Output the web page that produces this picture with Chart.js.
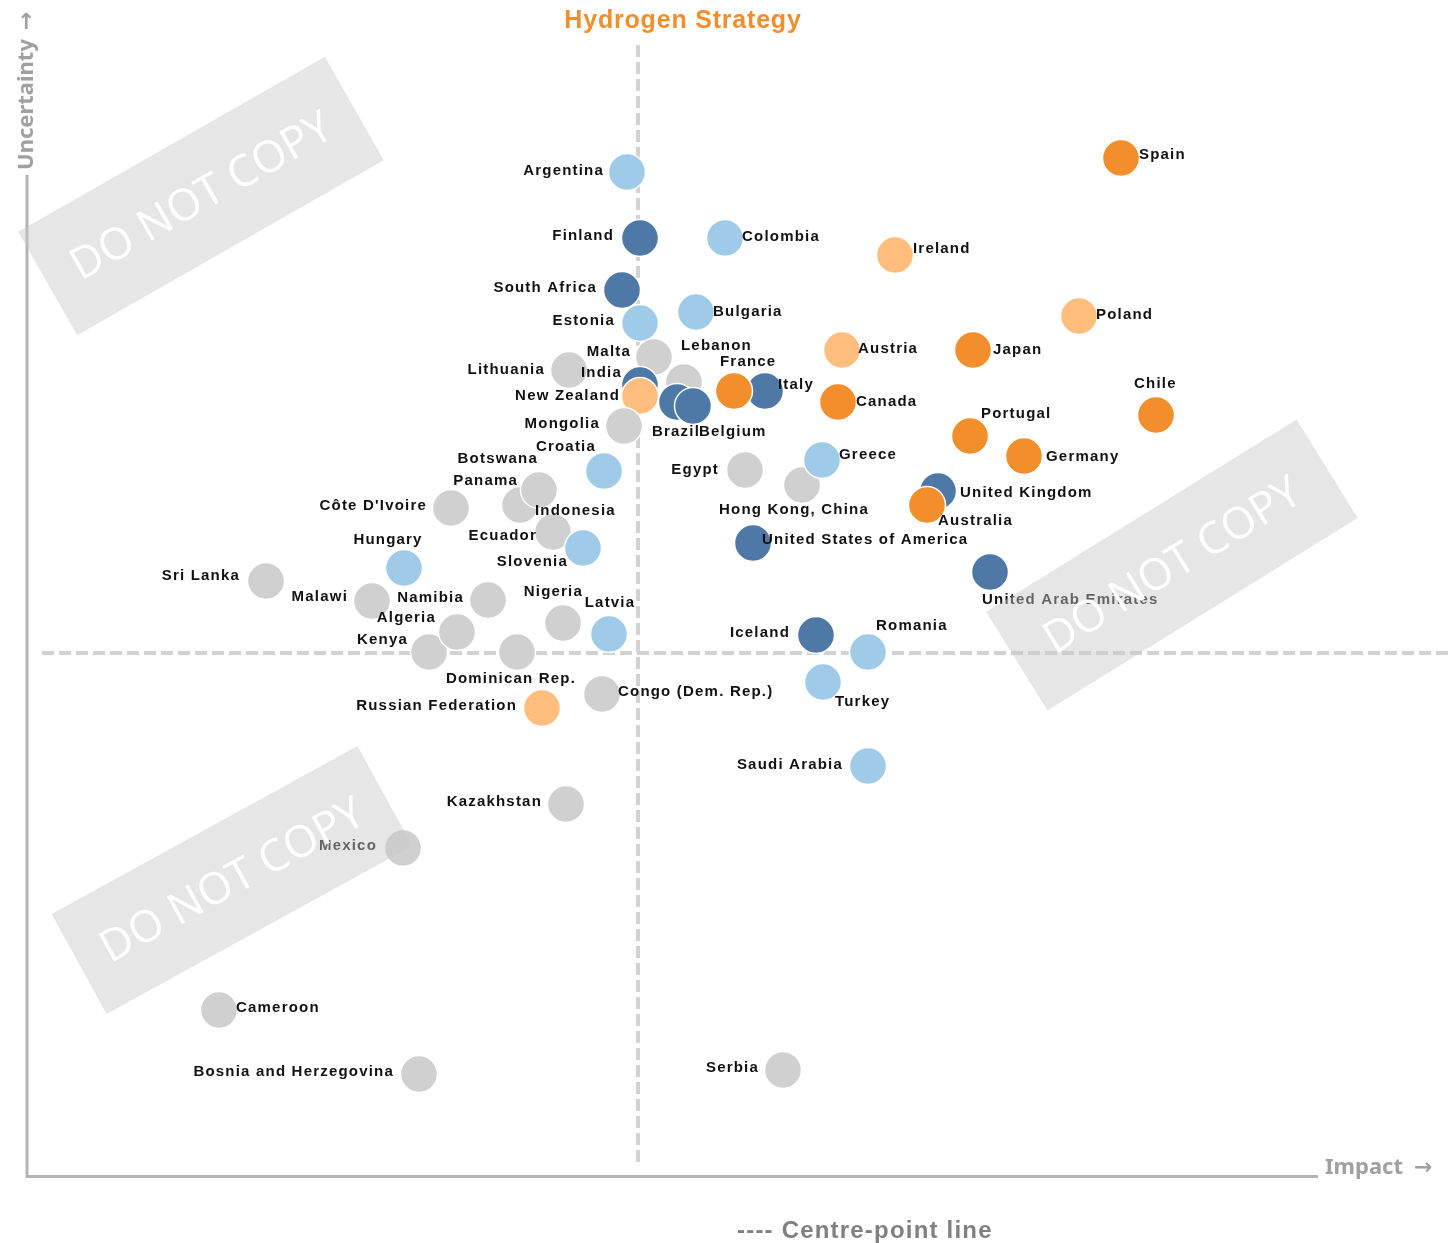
<!DOCTYPE html>
<html>
<head>
<meta charset="utf-8">
<title>Hydrogen Strategy</title>
<script src="https://cdn.jsdelivr.net/npm/chart.js@4.4.1/dist/chart.umd.min.js"></script>
<style>
  html, body { margin: 0; padding: 0; background: #ffffff; }
  #wrap { width: 1448px; height: 1243px; }
</style>
</head>
<body>
<div id="wrap"><canvas id="hydrogenScatter" width="1448" height="1243"></canvas></div>
<script>
// Country, impact score, uncertainty score and colour group (drawing order matters for overlaps)
const countries = [
  "Argentina", "Finland", "Colombia", "Ireland", "Spain", "South Africa", "Bulgaria", "Estonia",
  "Poland", "Malta", "Lebanon", "Lithuania", "India", "New Zealand", "Italy", "France",
  "Brazil", "Belgium", "Austria", "Japan", "Canada", "Chile", "Portugal", "Mongolia",
  "Croatia", "Egypt", "Hong Kong, China", "Greece", "Germany", "United Kingdom", "Australia",
  "United States of America", "United Arab Emirates", "Côte D'Ivoire", "Indonesia", "Botswana",
  "Panama", "Ecuador", "Slovenia", "Hungary", "Sri Lanka", "Malawi", "Namibia", "Nigeria",
  "Latvia", "Kenya", "Algeria", "Dominican Rep.", "Congo (Dem. Rep.)", "Russian Federation",
  "Iceland", "Romania", "Turkey", "Saudi Arabia", "Kazakhstan", "Mexico", "Cameroon",
  "Bosnia and Herzegovina", "Serbia"
];
const impact = [
  60.0, 61.3, 69.8, 86.8, 109.4, 59.5, 66.9, 61.3,
  105.2, 62.7, 65.7, 54.2, 61.3, 61.3, 73.8, 70.7,
  65.0, 66.6, 81.5, 94.6, 81.1, 112.9, 94.3, 59.7,
  57.7, 71.8, 77.5, 79.5, 99.7, 91.1, 90.0,
  72.6, 96.3, 42.4, 49.3, 51.3,
  51.2, 52.6, 55.6, 37.7, 23.9, 34.5, 46.1, 53.6,
  58.2, 40.2, 43.0, 49.0, 57.5, 51.5,
  78.9, 84.1, 79.6, 84.1, 53.9, 37.6, 19.2,
  39.2, 75.6
];
const uncertainty = [
  100.3, 93.7, 93.7, 92.0, 101.7, 88.5, 86.3, 85.2,
  85.9, 81.8, 79.3, 80.5, 79.0, 77.9, 78.4, 78.4,
  77.3, 76.9, 82.5, 82.5, 77.3, 76.0, 73.9, 74.9,
  70.4, 70.5, 69.0, 71.5, 71.9, 68.4, 67.0,
  63.2, 60.3, 66.7, 67.0, 68.6,
  68.5, 64.3, 62.7, 60.7, 59.4, 57.4, 57.5, 55.2,
  54.1, 52.3, 54.3, 52.3, 48.1, 46.7,
  54.0, 52.3, 49.3, 40.9, 37.1, 32.7, 16.5,
  10.1, 10.5
];
// 1 = dark blue, 2 = light blue, 3 = grey, 4 = light orange, 5 = orange
const group = [
  2, 1, 2, 4, 5, 1, 2, 2,
  4, 3, 3, 3, 1, 4, 1, 5,
  1, 1, 4, 5, 5, 5, 5, 3,
  2, 3, 3, 2, 5, 1, 5,
  1, 1, 3, 3, 3,
  3, 3, 2, 2, 3, 3, 3, 3,
  2, 3, 3, 3, 3, 4,
  1, 2, 2, 2, 3, 3, 3,
  3, 3
];
const centreImpact = 61.1;
const centreUncertainty = 52.2;

const groupColours = { 1: "#4E79A7", 2: "#A0CBE8", 3: "#D0D0D0", 4: "#FFBE7D", 5: "#F28E2B" };

// label placement: [dx, dy, align] relative to the point centre
const labelPlace = {
  "Argentina": [-23, -1, "right"], "Finland": [-26, -2, "right"], "Colombia": [17, -1, "left"],
  "Ireland": [18, -6, "left"], "Spain": [18, -3, "left"], "South Africa": [-25, -2, "right"],
  "Bulgaria": [17, 0, "left"], "Estonia": [-25, -2, "right"], "Poland": [17, -1, "left"],
  "Malta": [-23, -5, "right"], "Lebanon": [-3, -36, "left"], "Lithuania": [-24, 0, "right"],
  "India": [-18, -12, "right"], "New Zealand": [-20, 0, "right"], "France": [-14, -29, "left"],
  "Italy": [13, -6, "left"], "Austria": [16, -1, "left"], "Japan": [20, 0, "left"],
  "Canada": [18, 0, "left"], "Brazil": [-25, 30, "left"], "Belgium": [6, 26, "left"],
  "Chile": [-22, -31, "left"], "Portugal": [11, -22, "left"], "Mongolia": [-24, -2, "right"],
  "Croatia": [-8, -24, "right"], "Egypt": [-26, 0, "right"], "Greece": [17, -5, "left"],
  "Germany": [22, 1, "left"], "Hong Kong, China": [67, 25, "right"], "Botswana": [-2, -30, "right"],
  "Panama": [-21, -9, "right"], "Indonesia": [15, 6, "left"], "Côte D'Ivoire": [-24, -2, "right"],
  "Ecuador": [-16, 4, "right"], "Slovenia": [-15, 14, "right"], "Hungary": [-16, -28, "center"],
  "Sri Lanka": [-26, -5, "right"], "Malawi": [-24, -4, "right"], "Namibia": [-24, -2, "right"],
  "Nigeria": [20, -31, "right"], "Latvia": [1, -31, "center"], "Algeria": [-21, -14, "right"],
  "Kenya": [-21, -12, "right"], "Dominican Rep.": [-6, 27, "center"], "Congo (Dem. Rep.)": [16, -2, "left"],
  "Russian Federation": [-25, -2, "right"], "Iceland": [-26, -2, "right"], "Romania": [8, -26, "left"],
  "Turkey": [12, 20, "left"], "Saudi Arabia": [-25, -1, "right"], "Kazakhstan": [-24, -2, "right"],
  "Mexico": [-26, -2, "right"], "Cameroon": [17, -2, "left"], "Bosnia and Herzegovina": [-25, -2, "right"],
  "Serbia": [-24, -2, "right"], "United Kingdom": [22, 2, "left"], "Australia": [11, 16, "left"],
  "United States of America": [9, -3, "left"], "United Arab Emirates": [-8, 28, "left"]
};

const points = countries.map((c, i) => ({ x: impact[i], y: uncertainty[i], name: c }));

const decorations = {
  id: "decorations",
  beforeDatasetsDraw(chart) {
    const ctx = chart.ctx;
    const xs = chart.scales.x, ys = chart.scales.y;
    const cx = xs.getPixelForValue(centreImpact);
    const cy = ys.getPixelForValue(centreUncertainty);
    ctx.save();
    // centre-point lines
    ctx.strokeStyle = "#d2d2d2";
    ctx.lineWidth = 4;
    ctx.setLineDash([12, 5]);
    ctx.beginPath();
    ctx.moveTo(cx, 45); ctx.lineTo(cx, 1165);
    ctx.moveTo(42, cy); ctx.lineTo(1448, cy);
    ctx.stroke();
    ctx.setLineDash([]);

    // axes
    const x0 = xs.getPixelForValue(0), y0 = ys.getPixelForValue(0);
    ctx.strokeStyle = "#b4b4b4";
    ctx.lineWidth = 3;
    ctx.beginPath();
    ctx.moveTo(x0, ys.getPixelForValue(100)); ctx.lineTo(x0, y0 + 1.5);
    ctx.lineTo(xs.getPixelForValue(129.1), y0 + 1.5);
    ctx.stroke();

    // axis titles
    ctx.fillStyle = "#a0a0a0";
    ctx.font = "bold 22px 'Noto Sans'";
    ctx.textBaseline = "middle";
    ctx.textAlign = "left";
    ctx.fillText("Impact", 1325, 1168);
    ctx.font = "bold 22px 'DejaVu Sans'";
    ctx.fillText("\u2192", 1414, 1168);
    ctx.save();
    ctx.translate(27, 170);
    ctx.rotate(-Math.PI / 2);
    ctx.font = "bold 22px 'Noto Sans'";
    ctx.fillText("Uncertainty", 0, 0);
    ctx.font = "bold 22px 'DejaVu Sans'";
    ctx.fillText("\u2192", 140, 0);
    ctx.restore();

    // title
    ctx.fillStyle = "#F28E2B";
    ctx.font = "bold 25px 'Liberation Sans'";
    ctx.letterSpacing = "0.8px";
    ctx.textAlign = "center";
    ctx.fillText("Hydrogen Strategy", 683, 21);

    // centre-point legend
    ctx.fillStyle = "#808080";
    ctx.font = "bold 24px 'Liberation Sans'";
    ctx.letterSpacing = "1.2px";
    ctx.textAlign = "left";
    ctx.fillText("---- Centre-point line", 737, 1231);
    ctx.restore();
  },
  afterDatasetsDraw(chart) {
    const ctx = chart.ctx;
    const meta = chart.getDatasetMeta(0);
    ctx.save();
    ctx.fillStyle = "#111111";
    ctx.font = "bold 15px 'Liberation Sans'";
    ctx.letterSpacing = "1.2px";
    ctx.textBaseline = "middle";
    meta.data.forEach((el, i) => {
      const p = labelPlace[countries[i]] || [17, 0, "left"];
      ctx.textAlign = p[2];
      ctx.fillText(countries[i], el.x + p[0], el.y + p[1]);
    });
    ctx.letterSpacing = "0px";

    // watermarks
    const marks = [[201, 196, 353, 119, -29.7], [232, 880, 349, 114, -28.8], [1172, 565, 365, 116, -31.8]];
    marks.forEach(m => {
      ctx.save();
      ctx.translate(m[0], m[1]);
      ctx.rotate(m[4] * Math.PI / 180);
      ctx.fillStyle = "rgba(200,200,200,0.45)";
      ctx.fillRect(-m[2] / 2, -m[3] / 2, m[2], m[3]);
      ctx.fillStyle = "#ffffff";
      ctx.font = "44px 'Open Sans'";
      ctx.textAlign = "center";
      ctx.textBaseline = "middle";
      ctx.fillText("DO NOT COPY", 0, 2);
      ctx.restore();
    });
    ctx.restore();
  }
};

new Chart(document.getElementById("hydrogenScatter").getContext("2d"), {
  type: "scatter",
  data: {
    datasets: [{
      label: "Countries",
      data: points,
      backgroundColor: group.map(g => groupColours[g]),
      borderColor: "#ffffff",
      borderWidth: 1.5,
      pointRadius: 18.5,
      pointHoverRadius: 18.5,
      clip: false
    }]
  },
  options: {
    responsive: false,
    animation: false,
    devicePixelRatio: 1,
    layout: { padding: 0, autoPadding: false },
    plugins: { legend: { display: false }, tooltip: { enabled: false } },
    scales: {
      x: { type: "linear", min: -2.7, max: 142.1, display: false },
      y: { type: "linear", min: -6.8, max: 117.5, display: false }
    }
  },
  plugins: [decorations]
});
</script>
</body>
</html>
